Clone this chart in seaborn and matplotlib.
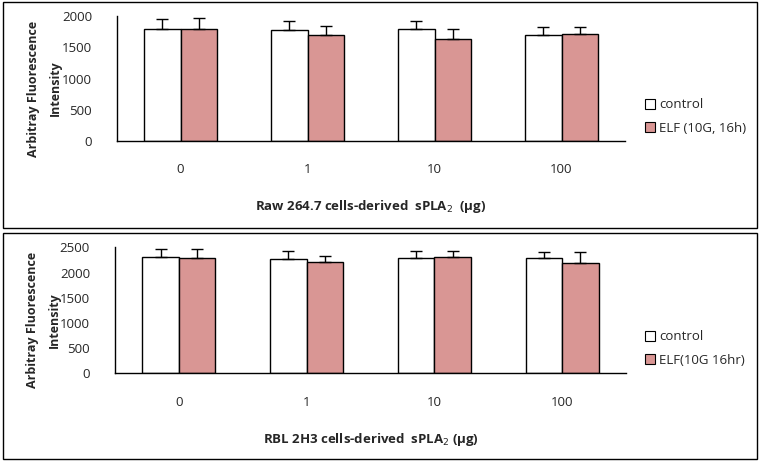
import matplotlib
matplotlib.use("Agg")
import matplotlib.pyplot as plt
import seaborn as sns
import pandas as pd
from matplotlib.patches import Rectangle, Patch
from matplotlib.container import BarContainer

sns.set_style("white")
plt.rcParams['font.family'] = ['Open Sans', 'DejaVu Sans']

doses = ["0", "1", "10", "100"]

raw_control = [1800, 1770, 1790, 1690]
raw_control_err = [150, 145, 130, 130]
raw_elf = [1790, 1690, 1640, 1720]
raw_elf_err = [175, 145, 145, 100]

rbl_control = [2300, 2260, 2280, 2280]
rbl_control_err = [160, 160, 140, 120]
rbl_elf = [2280, 2200, 2300, 2180]
rbl_elf_err = [180, 120, 120, 220]

raw_labels = ["control", "ELF (10G, 16h)"]
rbl_labels = ["control", "ELF(10G 16hr)"]

raw_yticks = [0, 500, 1000, 1500, 2000]
rbl_yticks = [0, 500, 1000, 1500, 2000, 2500]

raw_xlabel = "Raw 264.7 cells-derived  sPLA$_2$  (µg)"
rbl_xlabel = "RBL 2H3 cells-derived  sPLA$_2$ (µg)"
ylabel = "Arbitray Fluorescence\nIntensity"

colors = ["#FFFFFF", "#D99694"]

W, H = 760, 462
fig = plt.figure(figsize=(W / 100, H / 100), dpi=100)

# panel frames
for (y0, y1) in [(2, 228), (233, 459)]:
    fig.patches.append(Rectangle((3 / W, 1 - y1 / H), (757 - 3) / W, (y1 - y0) / H,
                                 transform=fig.transFigure, fill=False,
                                 edgecolor="black", linewidth=1.0))


def panel(rect, ctrl, ctrl_err, elf, elf_err, labels, yticks, xlabel, ly, lab_x):
    ax = fig.add_axes(rect)
    df = pd.DataFrame({
        "dose": doses * 2,
        "value": ctrl + elf,
        "group": [labels[0]] * 4 + [labels[1]] * 4,
    })
    sns.barplot(data=df, x="dose", y="value", hue="group", order=doses,
                hue_order=labels, palette=colors, errorbar=None, width=0.57,
                edgecolor="black", linewidth=1.0, ax=ax, legend=False, saturation=1)
    errs = [ctrl_err, elf_err]
    vals = [ctrl, elf]
    bar_conts = [c for c in ax.containers if isinstance(c, BarContainer)]
    for k, cont in enumerate(bar_conts):
        for i, bar in enumerate(cont.patches):
            xc = bar.get_x() + bar.get_width() / 2
            ax.errorbar(xc, vals[k][i], yerr=[[0], [errs[k][i]]], fmt="none",
                        ecolor="black", elinewidth=1.0, capsize=4, capthick=1.0)
    ax.set_xlim(-0.5, 3.5)
    ax.set_ylim(0, yticks[-1])
    ax.set_yticks(yticks)
    ax.set_yticklabels([str(t) for t in yticks], fontsize=9.5)
    ax.tick_params(axis="y", direction="in", length=3, width=1, pad=18)
    ax.tick_params(axis="x", length=0, pad=16, labelsize=9.5)
    ax.set_xlabel(xlabel, fontsize=9.5, fontweight="bold", labelpad=16)
    ax.set_ylabel(ylabel, fontsize=9, fontweight="bold", linespacing=1.9)
    ax.yaxis.set_label_coords(lab_x, 0.42)
    sns.despine(ax=ax)
    for s in ["left", "bottom"]:
        ax.spines[s].set_color("black")
        ax.spines[s].set_linewidth(1.0)
    handles = [Patch(facecolor=c, edgecolor="black", linewidth=0.8) for c in colors]
    fig.legend(handles, labels, loc="upper left", bbox_to_anchor=(640 / W, 1 - ly / H),
               frameon=False, fontsize=9.5, handlelength=0.75, handleheight=0.75,
               handletextpad=0.3, labelspacing=0.8, borderaxespad=0)
    return ax


panel([117 / W, 1 - 141 / H, 508 / W, 125 / H], raw_control, raw_control_err,
      raw_elf, raw_elf_err, raw_labels, raw_yticks, raw_xlabel, 93, -0.108)
panel([115 / W, 1 - 373.3 / H, 511 / W, 126 / H], rbl_control, rbl_control_err,
      rbl_elf, rbl_elf_err, rbl_labels, rbl_yticks, rbl_xlabel, 325, -0.106)

fig.savefig("out.png", dpi=100, facecolor="white")
